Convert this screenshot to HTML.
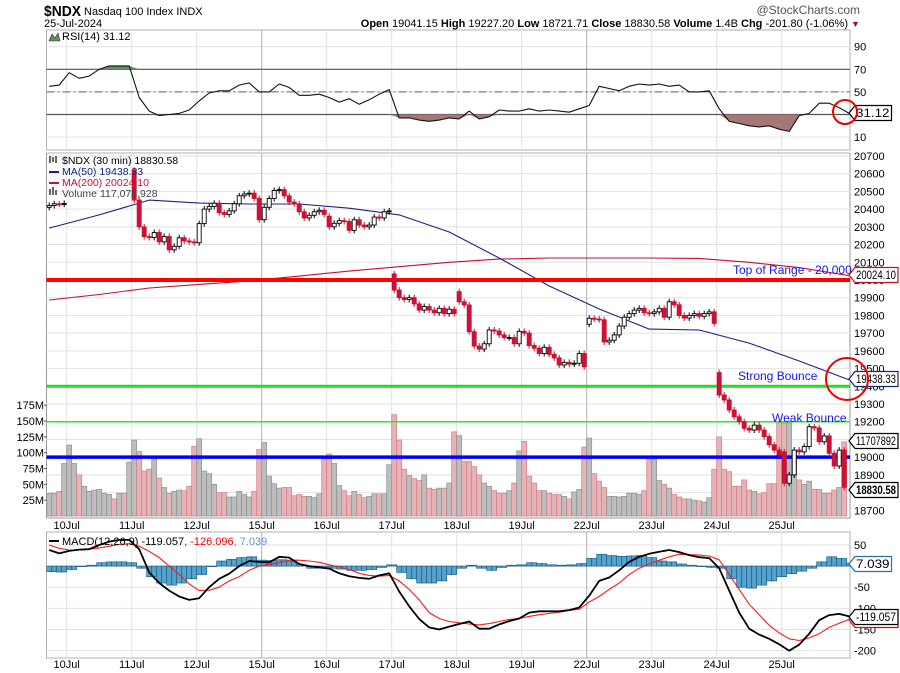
<!DOCTYPE html>
<html><head><meta charset="utf-8"><style>
html,body{margin:0;padding:0;background:#fff;}
svg{display:block;font-family:"Liberation Sans",sans-serif;}
</style></head><body>
<svg id="chart" width="900" height="673" viewBox="0 0 900 673" xmlns="http://www.w3.org/2000/svg">
<rect x="0" y="0" width="900" height="673" fill="#fff"/>
<text x="44" y="16" font-size="15" font-weight="bold" textLength="37" lengthAdjust="spacingAndGlyphs">$NDX</text>
<text x="84" y="15" font-size="11">Nasdaq 100 Index  INDX</text>
<text x="44" y="27" font-size="11">25-Jul-2024</text>
<text x="860" y="14" font-size="12" fill="#555" text-anchor="end">@StockCharts.com</text>
<text x="848" y="27" font-size="11" text-anchor="end"><tspan font-weight="bold">Open</tspan> 19041.15 <tspan font-weight="bold">High</tspan> 19227.20 <tspan font-weight="bold">Low</tspan> 18721.71 <tspan font-weight="bold">Close</tspan> 18830.58 <tspan font-weight="bold">Volume</tspan> 1.4B <tspan font-weight="bold">Chg</tspan> -201.80 (-1.06%)</text>
<text x="851" y="27" font-size="9" fill="#a0102a">▼</text>
<g id="rsiG"></g>
<g id="mainG"></g>
<g id="macdG"></g>
</svg>
<script>
// ---------- DATA ----------
const days = ["10Jul","11Jul","12Jul","15Jul","16Jul","17Jul","18Jul","19Jul","22Jul","23Jul","24Jul","25Jul"];
const priceTicks = [20700,20600,20500,20400,20300,20200,20100,20000,19900,19800,19700,19600,19500,19400,19300,19200,19100,19000,18900,18800,18700];
const volTicks = [175,150,125,100,75,50,25];
const rsiTicks = [90,70,50,30,10];
const macdTicks = [50,0,-50,-100,-150,-200];
const firstOpen = 20410;
const dayOpens = [null,20620,20210,20340,20360,20034,19934,19710,19750,19810,19477,19030];
const closes = [20420,20430,20428,20432,
null,null,null,null,null,null,null,null,null,null,null,null,null,
20451,20300,20245,20240,20268,20215,20245,20170,20190,20238,20220,20215,20210,
20318,20400,20415,20433,20380,20370,20390,20430,20475,20485,20490,20460,20340,
20410,20460,20505,20510,20475,20440,20430,20385,20350,20365,20385,20393,20370,
20300,20320,20335,20330,20280,20340,20310,20300,20310,20355,20350,20385,20390,
19943,19900,19890,19900,19865,19830,19850,19830,19815,19840,19810,19835,19810,
19877,19859,19708,19627,19610,19640,19718,19712,19690,19675,19675,19640,19710,
19700,19630,19615,19585,19620,19580,19560,19520,19535,19525,19530,19585,19510,
19784,19780,19775,19650,19660,19690,19740,19790,19810,19830,19840,19815,19810,
19820,19840,19790,19877,19860,19800,19785,19800,19810,19795,19810,19820,19755,
19351,19323,19266,19228,19200,19163,19153,19181,19153,19116,19070,19040,19012,
18853,18900,19040,19030,19060,19172,19165,19087,19120,19022,18950,19040,18830];
const volumes = [36,36,39,83,
112,83,65,47,39,41,42,36,34,27,36,36,85,
120,102,71,74,89,60,45,36,39,41,40,47,110,
122,71,67,50,37,37,30,30,39,34,30,39,105,
116,63,51,44,45,45,32,34,31,31,29,35,89,
98,83,48,40,32,39,34,29,31,35,35,35,81,
160,120,74,64,59,56,65,44,42,44,44,52,133,
127,86,86,78,65,52,47,40,36,36,40,52,103,
118,63,52,40,40,36,34,34,31,27,38,42,109,
123,67,55,45,31,31,30,31,36,36,34,40,89,
89,56,50,44,34,30,27,27,25,24,22,29,74,
125,74,70,47,47,57,41,39,35,37,51,51,147,
147,147,104,57,50,55,42,42,36,36,41,45,117];
const volDown10 = [0,0,1,0,0,0,0,0,0,1,0,1,0];
const ma50 = [20293,20367,20451,20434,20429,20429,20405,20367,20271,20124,19966,19836,19723,19718,19644,19543,19436];
const ma200 = [19887,19918,19955,19975,19995,20022,20050,20075,20100,20118,20124,20124,20124,20122,20100,20070,20024];
const rsi = [55,56,67,62,64,70,73,73,73,45,33,29,30,31,34,42,49,51,51,56,58,50,50,57,54,47,47,48,45,41,44,39,43,48,52,27,27,25,24,25,27,26,33,26,28,34,33,33,35,33,34,33,32,35,38,55,53,51,55,57,56,57,55,56,50,50,51,35,24,22,20,19,20,17,15,29,31,40,40,36,31];
const macd = [38,30,36,39,40,50,58,62,62,40,-15,-40,-58,-72,-80,-76,-50,-30,-18,0,12,10,9,22,20,5,0,-3,-6,-17,-24,-28,-30,-22,-17,-60,-95,-125,-145,-150,-143,-137,-131,-148,-148,-138,-130,-124,-110,-107,-107,-107,-104,-98,-70,-35,-27,-10,10,22,29,34,38,33,26,21,19,-5,-58,-110,-148,-162,-172,-185,-200,-186,-160,-128,-116,-113,-119];
const signal = [50,42,38,38,40,43,47,51,53,47,35,20,0,-20,-42,-58,-57,-50,-35,-25,-10,0,4,8,14,14,12,9,3,-2,-8,-17,-22,-24,-22,-35,-55,-80,-110,-124,-131,-134,-137,-139,-136,-131,-126,-124,-119,-115,-112,-109,-105,-102,-85,-72,-55,-40,-20,-5,5,14,22,28,27,26,24,15,-20,-55,-90,-115,-140,-158,-172,-176,-170,-160,-145,-135,-126];
const hist = [-13,-14,-8,0,2,8,10,10,8,-5,-25,-40,-45,-40,-30,-20,0,12,16,20,22,14,13,15,12,3,-5,-5,-5,-7,-10,-10,-8,-3,3,-15,-30,-40,-40,-35,-20,-5,2,-5,-10,-3,2,3,8,6,3,2,3,6,18,28,25,23,24,25,20,12,10,5,2,0,-3,-5,-30,-50,-52,-45,-35,-25,-18,-12,-5,10,22,18,7];

// ---------- SCALES ----------
const NS="http://www.w3.org/2000/svg";
const L=46.5, R=850;
function xBar(g){return 46.7+5*g;}
function xDay(d){return 66.7+65*d;}
function xPair(k){return xBar(2*k)+2.5;}
function xMA(k){return xBar(10*k)+2.5;}
function yP(p){return 386.3-(p-19400)*0.1772;}
function yV(v){return 516-v*0.633;}
function yR(v){return 69.3+(70-v)*1.13;}
function yM(v){return 566.1-v*0.4228;}
function mk(tag,attrs,parent,txt){const e=document.createElementNS(NS,tag);for(const k in attrs)e.setAttribute(k,attrs[k]);if(txt!==undefined)e.textContent=txt;parent.appendChild(e);return e;}
const svg=document.getElementById('chart');
const defs=mk('defs',{},svg);
const c1=mk('clipPath',{id:'clipMain'},defs);mk('rect',{x:L,y:153,width:R-L,height:365},c1);
const c2=mk('clipPath',{id:'clipMacd'},defs);mk('rect',{x:L,y:532,width:R-L,height:126},c2);
const c3=mk('clipPath',{id:'clipRsi'},defs);mk('rect',{x:L,y:30,width:R-L,height:120},c3);

function vgrid(g,y1,y2){days.forEach((d,i)=>{const x=xDay(i);const dark=(d==="15Jul"||d==="22Jul");
  const ln=mk('line',{x1:x,x2:x,y1:y1,y2:y2,stroke:dark?'#b0b0b0':'#e2e2e2','stroke-width':1},g);
  
  });}
function dateLabels(g,y){days.forEach((d,i)=>{const t=mk('text',{x:xDay(i),y:y,'font-size':11,'text-anchor':'middle'},g,d);
  
  });}
function tag(g,y,txt,stroke,fill,tcol,bold,name){const w=Math.min(txt.length*6.1+6,898-855);
  const p=mk('path',{d:`M849 ${y} L855 ${y-7.5} L${855+w} ${y-7.5} L${855+w} ${y+7.5} L855 ${y+7.5} Z`,fill:fill,stroke:stroke,'stroke-width':1.2},g);
  
  
  const t=mk('text',{x:856,y:y+4,'font-size':11.5,'font-weight':bold?'bold':'normal',fill:tcol,textLength:w-3,lengthAdjust:'spacingAndGlyphs'},g,txt);
  
  }
function polyline(g,vals,xf,yf,col,w,name){const pts=vals.map((v,k)=>xf(k).toFixed(1)+','+yf(v).toFixed(1)).join(' ');
  const pl=mk('polyline',{points:pts,fill:'none',stroke:col,'stroke-width':w,'stroke-linejoin':'round'},g);
  
  return pl;}

// ---------- RSI PANEL ----------
const rg=document.getElementById('rsiG');
mk('rect',{x:L,y:30,width:R-L,height:120,fill:'#fff',stroke:'#b0b0b0'},rg);
rsiTicks.forEach(v=>{mk('line',{x1:L,x2:R,y1:yR(v),y2:yR(v),stroke:'#e2e2e2'},rg);
  const t=mk('text',{x:854,y:yR(v)+4,'font-size':11},rg,String(v));
  
  });
vgrid(rg,30,150);
mk('line',{x1:L,x2:R,y1:yR(70),y2:yR(70),stroke:'#555','stroke-width':1.2},rg);
mk('line',{x1:L,x2:R,y1:yR(30),y2:yR(30),stroke:'#555','stroke-width':1.2},rg);
mk('line',{x1:L,x2:R,y1:yR(50),y2:yR(50),stroke:'#666','stroke-dasharray':'8,3,2,3'},rg);
const rclip=mk('g',{'clip-path':'url(#clipRsi)'},rg);
(function(){let up='M',dn='M';
 const ptsU=rsi.map((v,k)=>[xPair(k),yR(Math.max(v,70))]);
 const ptsD=rsi.map((v,k)=>[xPair(k),yR(Math.min(v,30))]);
 up+=xPair(0)+','+yR(70)+' '+ptsU.map(p=>'L'+p[0]+','+p[1]).join(' ')+' L'+xPair(rsi.length-1)+','+yR(70)+'Z';
 dn+=xPair(0)+','+yR(30)+' '+ptsD.map(p=>'L'+p[0]+','+p[1]).join(' ')+' L'+xPair(rsi.length-1)+','+yR(30)+'Z';
 const a=mk('path',{d:up,fill:'#5f8f5f'},rclip);
 
 
 const b=mk('path',{d:dn,fill:'#a57876'},rclip);
 
 })();
polyline(rclip,rsi,xPair,yR,'#111',1.1,'rsi-line');
const rl=mk('text',{x:62,y:40,'font-size':11},rg,'RSI(14) 31.12');


mk('path',{d:'M49 41 L52 34 L55 38 L58 33 L60 41 Z',fill:'#5f8f5f',stroke:'#333','stroke-width':0.6},rg);
tag(rg,113,'31.12','#000','#fff','#000',false,'rsi-value-tag');
const rc=mk('circle',{cx:845,cy:112,r:12,fill:'none',stroke:'#e00','stroke-width':2},rg);



// ---------- MAIN PANEL ----------
const mg=document.getElementById('mainG');
mk('line',{x1:L,x2:R,y1:153,y2:153,stroke:'#b0b0b0'},mg);
mk('line',{x1:R,x2:R,y1:153,y2:518,stroke:'#999'},mg);
mk('line',{x1:L,x2:L,y1:153,y2:518,stroke:'#999'},mg);
mk('line',{x1:L,x2:R,y1:518,y2:518,stroke:'#999'},mg);
priceTicks.forEach(p=>{mk('line',{x1:L,x2:R,y1:yP(p),y2:yP(p),stroke:'#e2e2e2'},mg);
  const t=mk('text',{x:854,y:yP(p)+4,'font-size':11},mg,String(p));
  
  });
vgrid(mg,153,518);
volTicks.forEach(v=>{const t=mk('text',{x:44,y:yV(v)+4,'font-size':11,'text-anchor':'end'},mg,v+'M');
  
  
  mk('line',{x1:44,x2:47,y1:yV(v),y2:yV(v),stroke:'#555'},mg);});
dateLabels(mg,529);
const mclip=mk('g',{'clip-path':'url(#clipMain)'},mg);
volumes.forEach((v,g)=>{let down;
  if(g>=4&&g<17){down=volDown10[g-4]===1;}
  else{const c=closes[g];let prev=null;for(let j=g-1;j>=0;j--){if(closes[j]!==null){prev=closes[j];break;}}
    down=prev!==null&&c<prev;}
  const r=mk('rect',{x:xBar(g),y:yV(v),width:5,height:516-yV(v),fill:down?'#e6b3b6':'#bdbdbd',stroke:down?'#d07f86':'#8f8f8f','stroke-width':0.7},mclip);
  
  });
polyline(mclip,ma200,xMA,yP,'#c8102e',1.1,'ma200-line');
polyline(mclip,ma50,xMA,yP,'#1a237e',1.1,'ma50-line');
[[20000,4,'#ff0000','top-of-range-line'],[19400,3,'#22dd22','strong-bounce-line'],[19200,1.6,'#22ee22','weak-bounce-line'],[19000,3.5,'#0000ff','blue-support-line']].forEach(h=>{
  const ln=mk('line',{x1:L,x2:R,y1:yP(h[0]),y2:yP(h[0]),stroke:h[2],'stroke-width':h[1]},mclip);
  
  });
closes.forEach((c,g)=>{if(c===null)return;
  let o;if(g===0)o=firstOpen;else if(g>=4&&(g-4)%13===0)o=dayOpens[(g-4)/13];else o=closes[g-1];
  if(o===null)o=c;
  const up=c>=o;const top=yP(Math.max(o,c)),bot=yP(Math.min(o,c));
  const cx=xBar(g)+2.5;
  const wk=mk('line',{x1:cx,x2:cx,y1:top-3,y2:bot+3,stroke:up?'#000':'#c8102e','stroke-width':1},mclip);
  
  
  const r=mk('rect',{x:xBar(g)+0.5,y:top,width:4,height:Math.max(1,bot-top),fill:up?'#fff':'#d0103a',stroke:up?'#000':'#c8102e','stroke-width':0.9},mclip);
  
  });
[["Top of Range - 20,000",733,274],["Strong Bounce",738,380],["Weak Bounce",772,422]].forEach(a=>{
  const t=mk('text',{x:a[1],y:a[2],'font-size':12,fill:'#1515ee'},mg,a[0]);
  
  });
[["$NDX (30 min) 18830.58",'#000',164],["MA(50) 19438.33",'#1a237e',175],["MA(200) 20024.10",'#c8102e',186],["Volume 117,078,928",'#444',197]].forEach((l,i)=>{
  const t=mk('text',{x:62,y:l[2],'font-size':10.5,fill:l[1]},mg,l[0]);
  
  });
mk('line',{x1:49,x2:59,y1:172,y2:172,stroke:'#1a237e','stroke-width':2},mg);
mk('line',{x1:49,x2:59,y1:183,y2:183,stroke:'#c8102e','stroke-width':2},mg);
mk('path',{d:'M49 195 h2 v-6 h-2z M52 195 h2 v-8 h-2z M55 195 h2 v-5 h-2z',fill:'#666'},mg);
mk('path',{d:'M50 156 v7 M53 157 v5 M56 156 v7',stroke:'#000','stroke-width':1.2},mg);
tag(mg,275,'20024.10','#c8102e','#fff','#000',false,'ma200-value-tag');
tag(mg,379,'19438.33','#1a237e','#fff','#000',false,'ma50-value-tag');
tag(mg,441,'11707892','#000','#fff','#000',false,'volume-value-tag');
tag(mg,490,'18830.58','#000','#fff','#000',true,'close-value-tag');
const mc=mk('circle',{cx:847,cy:379,r:21,fill:'none',stroke:'#e00','stroke-width':2},mg);



// ---------- MACD PANEL ----------
const dg=document.getElementById('macdG');
mk('rect',{x:L,y:532,width:R-L,height:126,fill:'#fff',stroke:'#b0b0b0'},dg);
macdTicks.forEach(v=>{mk('line',{x1:L,x2:R,y1:yM(v),y2:yM(v),stroke:'#e2e2e2'},dg);
  const t=mk('text',{x:854,y:yM(v)+4,'font-size':11},dg,String(v));
  
  });
vgrid(dg,532,658);
dateLabels(dg,668);
const dclip=mk('g',{'clip-path':'url(#clipMacd)'},dg);
hist.forEach((v,k)=>{for(let j=0;j<2;j++){const g=2*k+j;if(g>160)continue;
  const y0=yM(0),y1=yM(v);
  const r=mk('rect',{x:xBar(g),y:Math.min(y0,y1),width:5,height:Math.max(0.5,Math.abs(y1-y0)),fill:'#55a3cc',stroke:'#1e5f86','stroke-width':0.7},dclip);
  
  }});
polyline(dclip,signal,xPair,yM,'#ff1a1a',1.1,'macd-signal-line');
polyline(dclip,macd,xPair,yM,'#000',1.8,'macd-line');
const ml=mk('text',{x:62,y:545,'font-size':11},dg);


mk('tspan',{},ml,'MACD(12,26,9) -119.057');
mk('tspan',{fill:'#f00'},ml,', -126.096');
mk('tspan',{fill:'#6b8fd6'},ml,', 7.039');
mk('line',{x1:49,x2:59,y1:541,y2:541,stroke:'#000','stroke-width':2},dg);
tag(dg,620,'-126.096','#e00','#fff','#000',false,'signal-value-tag');
tag(dg,564,'7.039','#2a6fa8','#fff','#000',false,'histogram-value-tag');
tag(dg,617,'-119.057','#000','#fff','#000',false,'macd-value-tag');
</script>
</body></html>
